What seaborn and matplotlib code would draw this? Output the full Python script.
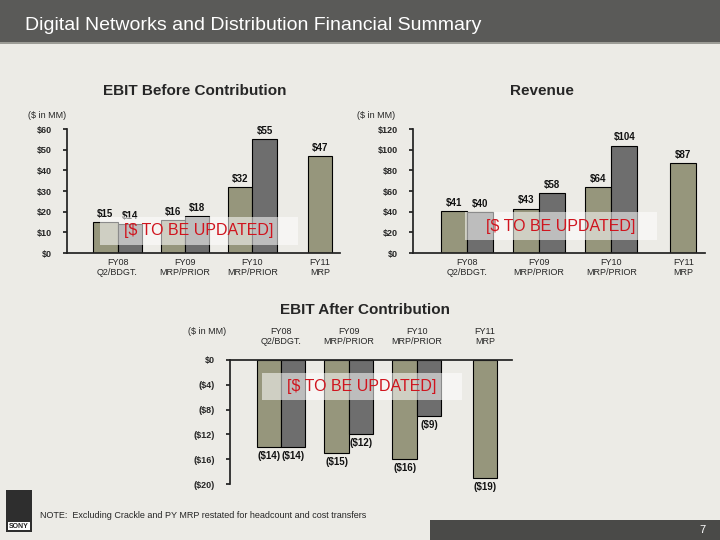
import matplotlib
matplotlib.use("Agg")
import matplotlib.pyplot as plt
import matplotlib.patches as mpatches
import pandas as pd
import seaborn as sns

CATEGORIES = ["FY08\nQ2/BDGT.", "FY09\nMRP/PRIOR", "FY10\nMRP/PRIOR", "FY11\nMRP"]
SERIES = ["current", "prior"]
EBIT_BEFORE_CUR = [15, 16, 32, 47]
EBIT_BEFORE_PRIOR = [14, 18, 55, None]
REVENUE_CUR = [41, 43, 64, 87]
REVENUE_PRIOR = [40, 58, 104, None]
EBIT_AFTER_CUR = [-14, -15, -16, -19]
EBIT_AFTER_PRIOR = [-14, -12, -9, None]

W, H = 720, 540
BG = "#ECEBE6"
PALETTE = {"current": "#9A9A78", "prior": "#6E6E6E"}

sns.set_theme(style="white")
plt.rcParams["font.family"] = ["Liberation Sans", "DejaVu Sans"]


def px_axes(fig, x0, y0, x1, y1):
    return fig.add_axes([x0 / W, 1 - y1 / H, (x1 - x0) / W, (y1 - y0) / H])


def make_df(cur, prior):
    rows = []
    for cat, c, p in zip(CATEGORIES, cur, prior):
        rows.append({"cat": cat, "series": "current", "value": c})
        rows.append({"cat": cat, "series": "prior", "value": p})
    return pd.DataFrame(rows)


def money(v):
    return f"(${abs(v):.0f})" if v < 0 else f"${v:.0f}"


def draw_bars(ax, cur, prior, offset):
    df = make_df(cur, prior)
    sns.barplot(data=df, x="cat", y="value", hue="series", order=CATEGORIES,
                hue_order=SERIES, palette=PALETTE, edgecolor="black",
                linewidth=0.8, width=0.72, legend=False, ax=ax)
    ax.set_facecolor(BG)
    # center the lone FY11 bar
    cur_bars = ax.containers[0]
    last = cur_bars[-1]
    last.set_x(len(CATEGORIES) - 1 - last.get_width() / 2)
    for container in ax.containers:
        for bar in container:
            h = bar.get_height()
            if pd.isna(h) or h == 0:
                continue
            y = h + offset if h > 0 else h - offset
            ax.text(bar.get_x() + bar.get_width() / 2, y, money(h), ha="center",
                    va="bottom" if h > 0 else "top", fontsize=7, fontweight="bold",
                    color="#111111")
    ax.set_xlabel("")
    ax.set_ylabel("")
    ax.tick_params(axis="y", labelsize=6.5, length=3, pad=8, left=True, color="#222222")
    for lbl in ax.get_yticklabels():
        lbl.set_fontweight("bold")
    ax.tick_params(axis="x", labelsize=6.5, length=0)
    for s in ["top", "right"]:
        ax.spines[s].set_visible(False)
    ax.spines["left"].set_color("#222222")
    ax.spines["bottom"].set_color("#222222")


def update_box(fig, x0, y0, x1, y1):
    fig.patches.append(mpatches.Rectangle((x0 / W, 1 - y1 / H), (x1 - x0) / W, (y1 - y0) / H,
                                          transform=fig.transFigure, facecolor="white",
                                          alpha=0.55, edgecolor="none", zorder=5))
    fig.text((x0 + x1) / 2 / W, 1 - (y0 + y1) / 2 / H, "[$ TO BE UPDATED]", ha="center",
             va="center", fontsize=11.5, color="#D0141E", zorder=6)


fig = plt.figure(figsize=(7.2, 5.4), dpi=100, facecolor=BG)

# header band
fig.patches.append(mpatches.Rectangle((0, 1 - 42 / H), 1, 42 / H, transform=fig.transFigure,
                                      facecolor="#5A5A58", edgecolor="none"))
fig.patches.append(mpatches.Rectangle((0, 1 - 44 / H), 1, 2 / H, transform=fig.transFigure,
                                      facecolor="#9C9C96", edgecolor="none"))
fig.text(25 / W, 1 - 25 / H, "Digital Networks and Distribution Financial Summary",
         color="white", fontsize=14, va="center")
# footer band
fig.patches.append(mpatches.Rectangle((430 / W, 0), 290 / W, 20 / H, transform=fig.transFigure,
                                      facecolor="#4A4A48", edgecolor="none"))
fig.text(706 / W, 10 / H, "7", color="white", fontsize=8, ha="right", va="center")
# logo
fig.patches.append(mpatches.Rectangle((6 / W, 8 / H), 26 / W, 42 / H, transform=fig.transFigure,
                                      facecolor="#2E2E2E", edgecolor="none"))
fig.text(19 / W, 14 / H, "SONY", color="#222222", fontsize=5, ha="center", va="center",
         fontweight="bold", bbox=dict(facecolor="white", edgecolor="none", pad=0.6))

# EBIT before contribution
ax1 = px_axes(fig, 67, 129, 340, 253)
draw_bars(ax1, EBIT_BEFORE_CUR, EBIT_BEFORE_PRIOR, 1.5)
ax1.set_ylim(0, 60)
ax1.set_yticks(range(0, 61, 10))
ax1.set_yticklabels([f"${v}" for v in range(0, 61, 10)])
ax1.set_xlim(-0.75, 3.3)
fig.text(195 / W, 1 - 91 / H, "EBIT Before Contribution", ha="center", va="center",
         fontsize=11, fontweight="bold")
fig.text(28 / W, 1 - 115 / H, "($ in MM)", fontsize=6.5, va="center")

# Revenue
ax2 = px_axes(fig, 413, 129, 705, 253)
draw_bars(ax2, REVENUE_CUR, REVENUE_PRIOR, 3)
ax2.set_ylim(0, 120)
ax2.set_yticks(range(0, 121, 20))
ax2.set_yticklabels([f"${v}" for v in range(0, 121, 20)])
ax2.set_xlim(-0.75, 3.3)
fig.text(542 / W, 1 - 91 / H, "Revenue", ha="center", va="center",
         fontsize=11, fontweight="bold")
fig.text(357 / W, 1 - 115 / H, "($ in MM)", fontsize=6.5, va="center")

# EBIT after contribution
ax3 = px_axes(fig, 230, 360, 512, 484)
draw_bars(ax3, EBIT_AFTER_CUR, EBIT_AFTER_PRIOR, 0.6)
ax3.set_ylim(-20, 0)
ax3.set_yticks(range(-20, 1, 4))
ax3.set_yticklabels([money(v) if v else "$0" for v in range(-20, 1, 4)])
for lbl in ax3.get_yticklabels():
    lbl.set_fontweight("bold")
ax3.set_xlim(-0.75, 3.4)
ax3.xaxis.tick_top()
ax3.spines["bottom"].set_visible(False)
ax3.spines["top"].set_visible(True)
ax3.spines["top"].set_color("#222222")
ax3.tick_params(axis="x", labelsize=6.5, length=0, pad=10)
fig.text(365 / W, 1 - 310 / H, "EBIT After Contribution", ha="center", va="center",
         fontsize=11, fontweight="bold")
fig.text(188 / W, 1 - 331 / H, "($ in MM)", fontsize=6.5, va="center")

update_box(fig, 100, 217, 298, 245)
update_box(fig, 465, 212, 657, 240)
update_box(fig, 262, 373, 462, 400)

fig.text(40 / W, 1 - 515 / H, "NOTE:  Excluding Crackle and PY MRP restated for headcount and cost transfers",
         fontsize=6.5, va="center")

fig.savefig("out.png", dpi=100, facecolor=BG)
